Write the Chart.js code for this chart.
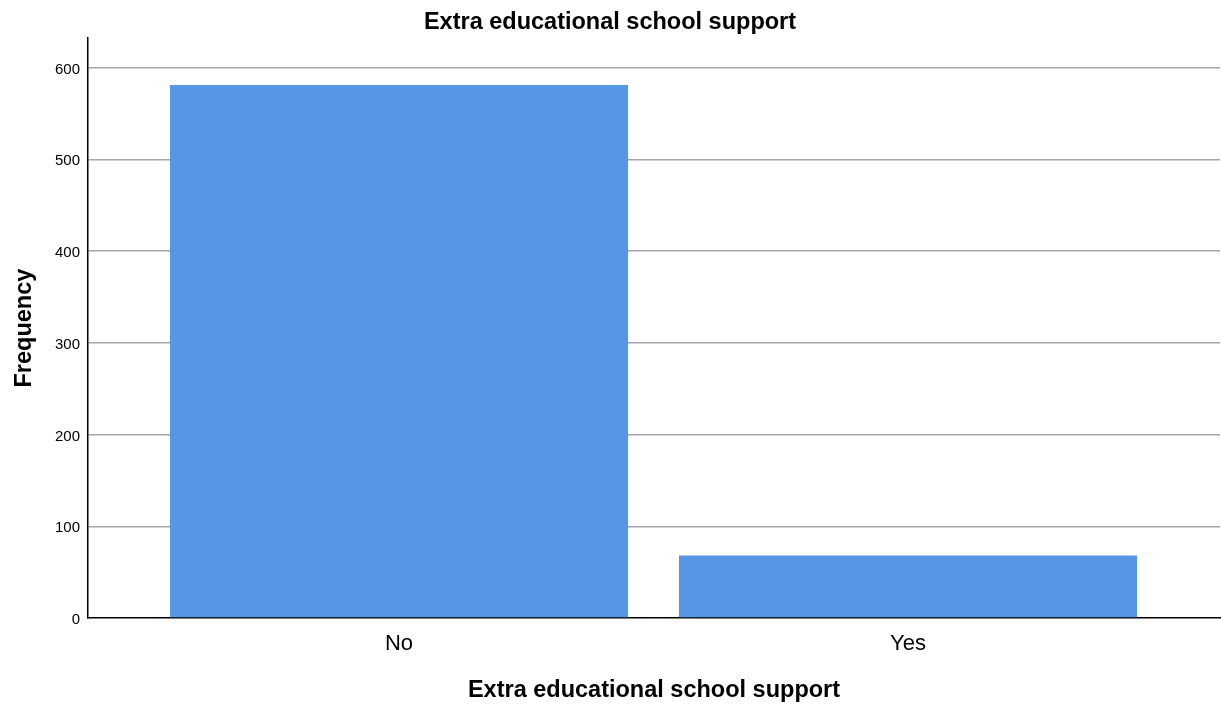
<!DOCTYPE html>
<html>
<head>
<meta charset="utf-8">
<script src="https://cdn.jsdelivr.net/npm/chart.js@4"></script>
<style>
html,body{margin:0;padding:0;background:#fff;}
#wrap{width:1221px;height:708px;}
</style>
</head>
<body>
<div id="wrap"><canvas id="c" width="1221" height="708"></canvas></div>
<script>
const categories = ['No', 'Yes'];
const frequencies = [581, 68];
const yTicks = [0, 100, 200, 300, 400, 500, 600];

const F = "'Liberation Sans', Arial, sans-serif";

new Chart(document.getElementById('c'), {
  type: 'bar',
  data: {
    datasets: [{
      data: categories.map((c, i) => ({x: i, y: frequencies[i]})),
      backgroundColor: '#5596e5',
      borderWidth: 0,
      barPercentage: 0.9,
      categoryPercentage: 1.0
    }]
  },
  options: {
    responsive: false,
    animation: false,
    layout: {padding: {left: 0, right: 1, top: 0, bottom: 0}},
    plugins: {
      legend: {display: false},
      tooltip: {enabled: false},
      title: {
        display: true,
        text: 'Extra educational school support',
        color: '#000',
        font: {family: F, size: 23.5, weight: 'bold'},
        padding: {top: 8, bottom: 2}
      }
    },
    scales: {
      x: {
        type: 'linear',
        min: -0.611,
        max: 1.613,
        offset: false,
        afterBuildTicks: s => { s.ticks = categories.map((c, i) => ({value: i})); },
        afterFit: s => { s.height = 90; },
        ticks: {
          callback: v => categories[v],
          color: '#000',
          font: {family: F, size: 22},
          padding: 13,
          maxRotation: 0
        },
        grid: {display: false, drawTicks: false},
        border: {display: true, color: '#000', width: 1.5},
        title: {
          display: true,
          text: 'Extra educational school support',
          color: '#000',
          font: {family: F, size: 23.5, weight: 'bold'},
          padding: {top: 3, bottom: 3}
        }
      },
      y: {
        min: 0,
        max: 632,
        afterBuildTicks: s => { s.ticks = yTicks.map(v => ({value: v})); },
        afterFit: s => { s.width = 88; },
        ticks: {
          color: '#000',
          font: {family: F, size: 15},
          padding: 8,
          labelOffset: 2
        },
        grid: {
          drawTicks: false,
          color: ctx => ctx.tick && ctx.tick.value === 0 ? 'rgba(0,0,0,0)' : '#a6a6a6',
          lineWidth: 1.5
        },
        border: {display: true, color: '#000', width: 1.5},
        title: {
          display: true,
          text: 'Frequency',
          color: '#000',
          font: {family: F, size: 23.5, weight: 'bold'},
          padding: {top: 10, bottom: 4}
        }
      }
    }
  }
});
</script>
</body>
</html>
